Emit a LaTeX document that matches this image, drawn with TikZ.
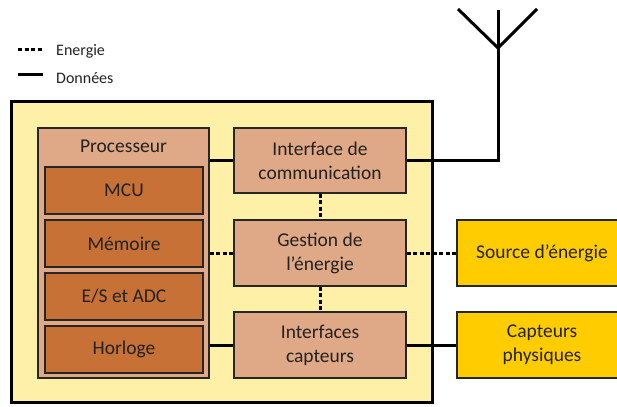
\documentclass[tikz,border=0pt]{standalone}
\usepackage{fontspec}
\setmainfont{Carlito}
\definecolor{outerfill}{HTML}{FFF0A8}
\definecolor{peach}{HTML}{DFA886}
\definecolor{brown}{HTML}{C87137}
\definecolor{gold}{HTML}{FFCC00}
\definecolor{txt}{HTML}{222222}
\begin{document}
\begin{tikzpicture}[x=1pt,y=-1pt,
  box/.style={draw=black!85,line width=1.8pt,inner sep=0pt,align=center,text=txt,font=\fontsize{19.5}{24}\selectfont},
  midbox/.style={box,fill=peach,minimum width=172pt,minimum height=66pt},
  inbox/.style={box,fill=brown,minimum width=158pt,minimum height=47pt},
  extbox/.style={box,fill=gold,minimum width=170pt,minimum height=66pt},
  data/.style={line width=3pt,black},
  energy/.style={line width=3pt,black,dash pattern=on 4pt off 2.5pt},
  legtxt/.style={anchor=west,inner sep=0pt,text=txt,font=\fontsize{16}{19}\selectfont}]
\useasboundingbox (0,0) rectangle (617,406);
\begin{scope}
\clip (0,0) rectangle (617,406);
% legend
\coordinate (le1) at (18,50);
\coordinate (le2) at (43,50);
\draw[energy] (le1) -- (le2);
\node[legtxt] (lt1) at (56,51) {Energie};
\coordinate (ld1) at (18,75);
\coordinate (ld2) at (43,75);
\draw[data] (ld1) -- (ld2);
\node[legtxt] (lt2) at (56,78) {Données};
% outer
\node[draw=black,line width=3pt,fill=outerfill,minimum width=421pt,minimum height=301pt,inner sep=0pt] (outer) at (221.5,252) {};
% processor
\node[box,fill=peach,minimum width=171pt,minimum height=250pt] (proc) at (123.5,253) {};
\node[box,draw=none] (procl) at (123.5,146) {Processeur};
\node[inbox] (mcu) at (124,190.5) {MCU};
\node[inbox] (mem) at (124,243.5) {Mémoire};
\node[inbox] (es) at (124,296.5) {E/S et ADC};
\node[inbox] (horl) at (124,349.5) {Horloge};
% middle
\node[midbox,minimum height=65pt] (comm) at (320,160.5) {Interface de\\communication};
\node[midbox] (gest) at (320,253) {Gestion de\\l’énergie};
\node[midbox] (capt) at (320,345) {Interfaces\\capteurs};
% external
\node[extbox] (src) at (542,253) {Source d’énergie};
\node[extbox] (phys) at (542,345) {Capteurs\\physiques};
% connectors
\draw[data] (proc.east |- comm.west) -- (comm.west);
\draw[energy] (proc.east |- gest.west) -- (gest.west);
\draw[data] (proc.east |- capt.west) -- (capt.west);
\draw[energy] (comm.south) -- (gest.north);
\draw[energy] (gest.south) -- (capt.north);
\draw[energy] (gest.east) -- (src.west);
\draw[data] (capt.east) -- (phys.west);
% antenna
\coordinate (antv) at (498,48);
\coordinate (anttop) at (498,10);
\coordinate (antl) at (458,9);
\coordinate (antr) at (537,9);
\draw[data] (comm.east) -| (antv) -- (anttop);
\draw[data,line join=miter] (antl) -- (antv) -- (antr);
\end{scope}
\end{tikzpicture}
\end{document}
